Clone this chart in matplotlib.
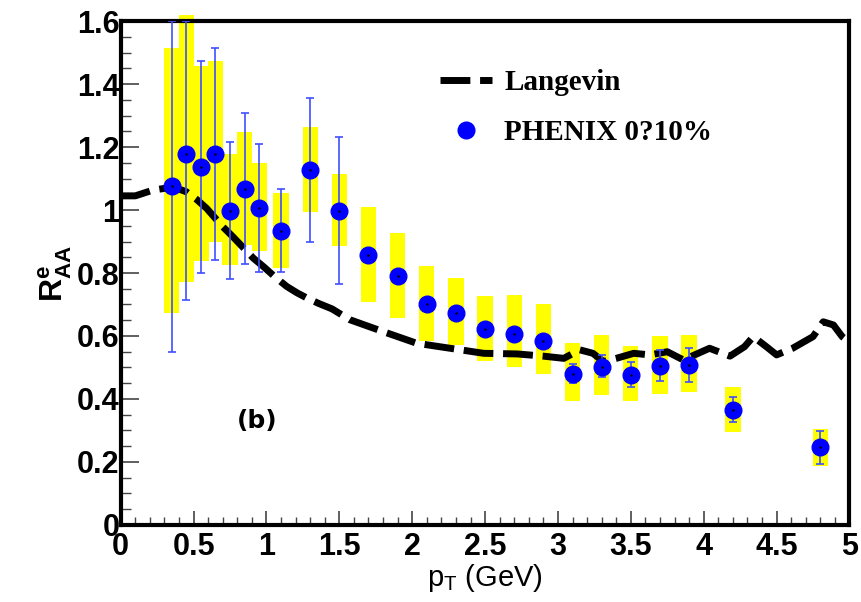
import numpy as np
import matplotlib.pyplot as plt
from matplotlib.patches import Rectangle
from matplotlib.ticker import MultipleLocator

# PHENIX 0-10% data points
pt = [0.35, 0.45, 0.55, 0.65, 0.75, 0.85, 0.95, 1.1, 1.3, 1.5, 1.7, 1.9,
      2.1, 2.3, 2.5, 2.7, 2.9, 3.1, 3.3, 3.5, 3.7, 3.9, 4.2, 4.8]
raa = [1.077, 1.178, 1.137, 1.178, 0.997, 1.068, 1.008, 0.934, 1.127, 0.997, 0.857, 0.79,
       0.70, 0.672, 0.622, 0.607, 0.585, 0.48, 0.503, 0.475, 0.504, 0.509, 0.365, 0.248]
# statistical errors (upper / lower edge)
stat_hi = [1.60, 1.60, 1.473, 1.513, 1.215, 1.307, 1.21, 1.066, 1.357, 1.233, 0.857, 0.79,
           0.70, 0.672, 0.622, 0.607, 0.585, 0.51, 0.539, 0.517, 0.556, 0.563, 0.406, 0.298]
stat_lo = [0.548, 0.714, 0.80, 0.841, 0.781, 0.828, 0.804, 0.802, 0.899, 0.764, 0.857, 0.79,
           0.70, 0.672, 0.622, 0.607, 0.585, 0.45, 0.47, 0.438, 0.458, 0.455, 0.326, 0.195]
# systematic boxes (upper / lower edge)
sys_hi = [1.515, 1.62, 1.458, 1.474, 1.178, 1.247, 1.148, 1.053, 1.263, 1.114, 1.01, 0.927,
          0.823, 0.784, 0.727, 0.73, 0.70, 0.577, 0.603, 0.569, 0.60, 0.603, 0.438, 0.305]
sys_lo = [0.674, 0.77, 0.838, 0.90, 0.825, 0.89, 0.871, 0.817, 0.995, 0.886, 0.707, 0.658,
          0.585, 0.571, 0.522, 0.50, 0.48, 0.395, 0.414, 0.393, 0.416, 0.423, 0.296, 0.188]

# Langevin curve
lang_pt = [0.0, 0.1, 0.22, 0.36, 0.45, 0.52, 0.59, 0.70, 0.77, 0.91, 0.98, 1.06, 1.14, 1.21,
           1.28, 1.36, 1.45, 1.57, 1.80, 2.03, 2.26, 2.49, 2.72, 2.90, 3.04, 3.15, 3.24, 3.31,
           3.40, 3.52, 3.63, 3.75, 3.86, 4.04, 4.18, 4.28, 4.34, 4.43, 4.50, 4.61, 4.75, 4.82,
           4.89, 4.95, 5.0]
lang_r = [1.045, 1.045, 1.063, 1.073, 1.058, 1.034, 1.005, 0.947, 0.915, 0.847, 0.82, 0.787,
          0.757, 0.737, 0.72, 0.703, 0.686, 0.652, 0.614, 0.577, 0.561, 0.545, 0.543, 0.536,
          0.529, 0.556, 0.545, 0.519, 0.529, 0.545, 0.54, 0.55, 0.524, 0.561, 0.536, 0.566,
          0.598, 0.566, 0.54, 0.561, 0.598, 0.645, 0.635, 0.598, 0.58]

fig = plt.figure(figsize=(8.61, 6.02), dpi=100)
ax = fig.add_axes([0.1402, 0.128, 0.8464, 0.837])

box_w = 0.105
for x, lo, hi in zip(pt, sys_lo, sys_hi):
    ax.add_patch(Rectangle((x - box_w / 2, lo), box_w, hi - lo, facecolor='#ffff00',
                           edgecolor='none', zorder=1, clip_on=False))

ax.axhline(0, color='#1010a0', lw=1.5, zorder=2)

ax.plot(lang_pt, lang_r, color='black', lw=5, dashes=(4.3, 1.4),
        solid_joinstyle='round', dash_capstyle='butt', zorder=3, label='Langevin')

yerr = [np.array(raa) - np.array(stat_lo), np.array(stat_hi) - np.array(raa)]
ax.errorbar(pt, raa, yerr=yerr, fmt='none', ecolor='#3f4fff', elinewidth=1.2,
            capsize=3, capthick=1.2, zorder=4)
ax.plot(pt, raa, 'o', color='#0000ff', ms=12, mec='#0000ff', zorder=5,
        label='PHENIX 0?10%')
ax.plot(pt, raa, '.', color='black', ms=1.5, zorder=6)

ax.set_xlim(0, 5)
ax.set_ylim(0, 1.6)
ax.xaxis.set_minor_locator(MultipleLocator(0.1))
ax.yaxis.set_minor_locator(MultipleLocator(0.05))
ax.set_xticks(np.arange(0, 5.01, 0.5))
ax.set_xticklabels(['0', '0.5', '1', '1.5', '2', '2.5', '3', '3.5', '4', '4.5', '5'])
ax.set_yticks(np.arange(0, 1.61, 0.2))
ax.set_yticklabels(['0', '0.2', '0.4', '0.6', '0.8', '1', '1.2', '1.4', '1.6'])

tick_font = dict(family='Liberation Sans', weight='bold', size=22)
for lab in ax.get_xticklabels() + ax.get_yticklabels():
    lab.set_fontproperties(tick_font)

ax.tick_params(axis='x', which='major', direction='in', length=10, width=1.2,
               color='#444444', pad=5, top=False)
ax.tick_params(axis='x', which='minor', direction='in', length=5.5, width=1.0,
               color='#444444', top=False)
ax.tick_params(axis='y', which='major', direction='in', length=13, width=1.2,
               color='#444444', pad=1, right=False)
ax.tick_params(axis='y', which='minor', direction='in', length=7, width=1.0,
               color='#444444', right=False)

for side in ['left', 'top', 'right', 'bottom']:
    ax.spines[side].set_linewidth(3)
    ax.spines[side].set_color('black')

ax.set_xlabel(r'p$_{\mathregular{T}}$ (GeV)', fontfamily='Liberation Sans', fontsize=21,
              labelpad=0)
ax.set_ylabel(r'R$^{\mathregular{e}}_{\mathregular{AA}}$', fontfamily='Liberation Sans',
              fontweight='bold', fontsize=23, labelpad=2)

ax.text(0.935, 0.33, '(b)', fontfamily='DejaVu Sans', fontweight='bold', fontsize=18,
        ha='center', va='center')

leg = ax.legend(loc='upper left', bbox_to_anchor=(0.438, 0.905), frameon=False,
                prop=dict(family='Liberation Serif', weight='bold', size=21),
                handlelength=1.8, handletextpad=0.4, labelspacing=0.8,
                borderpad=0, borderaxespad=0, markerscale=1.0)

fig.savefig('out.png', dpi=100)
